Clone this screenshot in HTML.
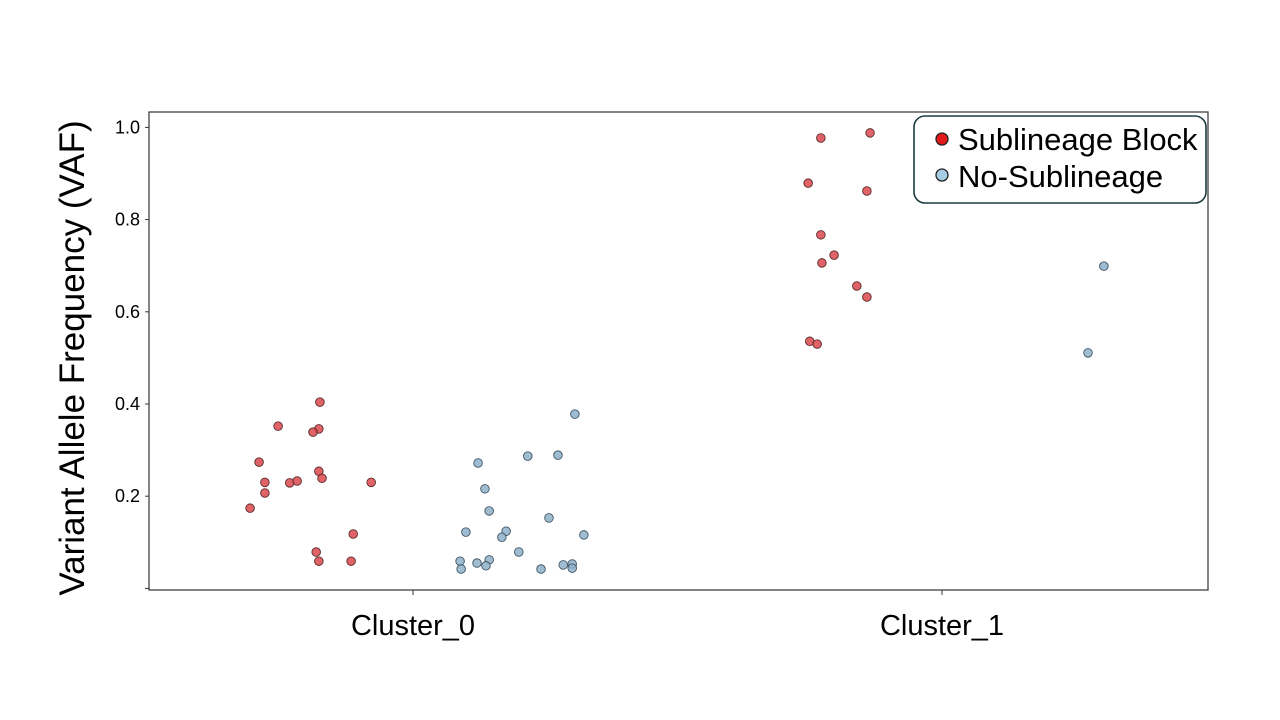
<!DOCTYPE html>
<html><head><meta charset="utf-8"><style>
body{margin:0;background:#fff;}
svg{display:block;font-family:"Liberation Sans",sans-serif;}
</style></head><body>
<svg id="chart" width="1280" height="720">
<rect x="149" y="112" width="1059" height="478" fill="none" stroke="#333" stroke-width="1.2"/>
<text x="0" y="0" transform="translate(84,358) rotate(-90)" text-anchor="middle" font-size="35" fill="#000">Variant Allele Frequency (VAF)</text>
<g id="yticks"></g>
<g id="xticks"></g>
<g id="points"></g>
<g>
<rect x="914" y="116" width="292" height="87" rx="11" fill="#fff" stroke="#1d3a40" stroke-width="1.6"/>
<circle cx="942" cy="139" r="6" fill="#e31a1c" stroke="#222" stroke-width="1.3"/>
<text x="958" y="150" font-size="31">Sublineage Block</text>
<circle cx="942" cy="175" r="6" fill="#a6cee3" stroke="#222" stroke-width="1.3"/>
<text x="958" y="187" font-size="31">No-Sublineage</text>
</g>
</svg>
<script>
const categories=["Cluster_0","Cluster_1"];
const yTicks=[0.2,0.4,0.6,0.8,1.0];
const yTickLabels=["0.2","0.4","0.6","0.8","1.0"];
const redCat=[0,0,0,0,0,0,0,0,0,0,0,0,0,0,0,0,0,1,1,1,1,1,1,1,1,1,1,1];
const redJitter=[-0.176,-0.255,-0.178,-0.189,-0.291,-0.178,-0.172,-0.280,-0.233,-0.219,-0.079,-0.280,-0.308,-0.113,-0.183,-0.178,-0.117,-0.229,-0.136,-0.253,-0.142,-0.229,-0.204,-0.227,-0.161,-0.142,-0.250,-0.236];
const redVals=[0.404,0.352,0.346,0.339,0.274,0.254,0.239,0.230,0.229,0.233,0.230,0.207,0.174,0.118,0.079,0.059,0.059,0.977,0.988,0.879,0.862,0.767,0.723,0.706,0.656,0.632,0.536,0.530];
const blueCat=[0,0,0,0,0,0,0,0,0,0,0,0,0,0,0,0,0,0,0,0,0,1,1];
const blueJitter=[0.306,0.217,0.274,0.123,0.136,0.144,0.257,0.100,0.176,0.168,0.323,0.200,0.089,0.091,0.121,0.144,0.138,0.242,0.284,0.301,0.301,0.306,0.276];
const blueVals=[0.378,0.287,0.289,0.272,0.216,0.168,0.153,0.122,0.124,0.111,0.116,0.079,0.059,0.042,0.055,0.062,0.049,0.042,0.051,0.053,0.044,0.699,0.511];

const NS="http://www.w3.org/2000/svg";
const catX=[413,942], band=529;
function xScale(c,j){return catX[c]+j*band;}
function yScale(v){return 588.4-v*461;}
function mk(tag,attrs,parent){const e=document.createElementNS(NS,tag);for(const k in attrs)e.setAttribute(k,attrs[k]);parent.appendChild(e);return e;}
const yg=document.getElementById('yticks');
yTicks.forEach((t,i)=>{
  const y=yScale(t);
  const l=mk('line',{x1:145,x2:149,y1:y,y2:y,stroke:'#333'},yg);
  
  
  const tx=mk('text',{x:140,y:y+6,'text-anchor':'end','font-size':18},yg);
  tx.textContent=yTickLabels[i];
  
  
});
const yz=yScale(0);
mk('line',{x1:145,x2:149,y1:yz,y2:yz,stroke:'#333'},yg);
const xg=document.getElementById('xticks');
categories.forEach((c,i)=>{
  const x=catX[i];
  const l=mk('line',{x1:x,x2:x,y1:590,y2:595,stroke:'#333'},xg);
  
  
  const tx=mk('text',{x:x,y:635,'text-anchor':'middle','font-size':29},xg);
  tx.textContent=c;
  
  
});
const pg=document.getElementById('points');
redVals.forEach((v,i)=>{
  const c=mk('circle',{cx:xScale(redCat[i],redJitter[i]),cy:yScale(v),r:4.3,fill:'#d9484c','fill-opacity':0.85,stroke:'#5a2a2a','stroke-width':0.9},pg);
  
  
});
blueVals.forEach((v,i)=>{
  const c=mk('circle',{cx:xScale(blueCat[i],blueJitter[i]),cy:yScale(v),r:4.3,fill:'#8fb0c8','fill-opacity':0.85,stroke:'#3d5566','stroke-width':0.9},pg);
  
  
});
</script>
</body></html>
